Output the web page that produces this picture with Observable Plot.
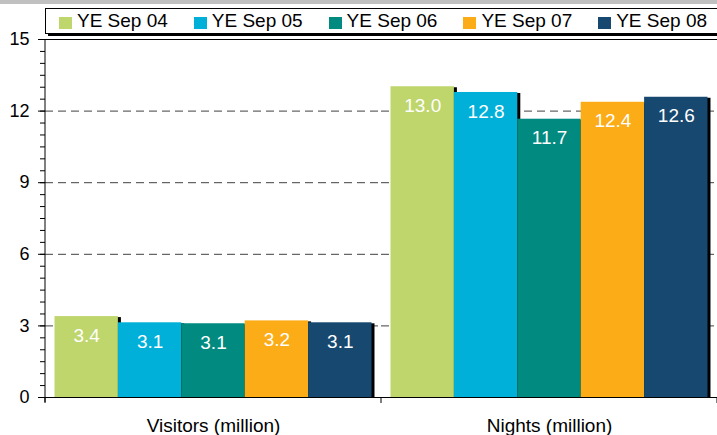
<!DOCTYPE html>
<html>
<head>
<meta charset="utf-8">
<script src="https://cdn.jsdelivr.net/npm/d3@7"></script>
<script src="https://cdn.jsdelivr.net/npm/@observablehq/plot@0.6"></script>
<style>
  html, body { margin: 0; padding: 0; background: #fff; overflow: hidden; }
  #wrap { position: relative; width: 717px; height: 435px; overflow: hidden; font-family: "Liberation Sans", Arial, sans-serif; }
  #band { position: absolute; left: 0; top: 0; width: 717px; height: 4px; background: #c0c0c0; z-index: 1; }
  #legend { position: absolute; left: 45px; top: 8px; width: 720px; height: 24px; border: 1px solid #000; background: #fff; box-shadow: 3px 2px 0 #000; z-index: 2; }
  .item { position: absolute; top: 0; height: 24px; white-space: nowrap; }
  .sw { position: absolute; top: 8px; width: 13px; height: 12px; }
  .lab { position: absolute; left: 18px; top: 0px; font-size: 19px; line-height: 24px; color: #000; }
  #chart { position: absolute; left: 0; top: 0; }
</style>
</head>
<body>
<div id="wrap">
  <div id="band"></div>
  <div id="chart"></div>
  <div id="legend"></div>
</div>
<script>
const categories = ["Visitors (million)", "Nights (million)"];
const years = ["YE Sep 04", "YE Sep 05", "YE Sep 06", "YE Sep 07", "YE Sep 08"];
const visitors = [3.39, 3.13, 3.09, 3.21, 3.13];
const nights = [13.02, 12.78, 11.66, 12.37, 12.58];
const colors = ["#bed66b", "#00b0d8", "#008a80", "#fcac17", "#17486f"];
const yTicks = [0, 3, 6, 9, 12, 15];
const gridValues = [3, 6, 9, 12];

const data = [];
years.forEach((yr, i) => data.push({cat: categories[0], year: yr, value: visitors[i]}));
years.forEach((yr, i) => data.push({cat: categories[1], year: yr, value: nights[i]}));

const chart = Plot.plot({
  width: 717,
  height: 435,
  marginLeft: 45,
  marginRight: 0,
  marginTop: 39,
  marginBottom: 38,
  style: {fontFamily: "'Liberation Sans', Arial, sans-serif", fontSize: "19px", color: "#000", background: "transparent"},
  fx: {domain: categories, padding: 0, label: null, round: false},
  x: {domain: years, paddingInner: 0, paddingOuter: 0.15, round: false, axis: null},
  y: {domain: [0, 15], label: null},
  color: {domain: years, range: colors},
  marks: [
    Plot.gridY(gridValues, {stroke: "#404040", strokeOpacity: 1, strokeDasharray: "8,5"}),
    Plot.barY(data, {fx: "cat", x: "year", y: "value", fill: "#000", dx: 3, dy: 1, insetBottom: 1}),
    Plot.barY(data, {fx: "cat", x: "year", y: "value", fill: "year"}),
    Plot.text(data, {fx: "cat", x: "year", y: "value", text: d => d.value.toFixed(1), dy: 19, fill: "#fff", fontSize: 19}),
    Plot.ruleY([0, 15], {stroke: "#000"}),
    Plot.axisY({ticks: d3.range(0, 15.01, 0.5), tickSize: 5, text: null, anchor: "left", label: null}),
    Plot.axisY({ticks: yTicks, tickSize: 7, tickPadding: 9, fontSize: 18, anchor: "left", label: null}),
    Plot.axisFx({tickSize: 0, tickPadding: 21, fontSize: 19, label: null, anchor: "bottom"})
  ]
});

// axis line and category boundary ticks via the plot's own scales
const fx = chart.scale("fx");
const ys = chart.scale("y");
const svg = d3.select(chart);
const y0 = ys.apply(0), yTop = ys.apply(15);
const edges = [];
categories.forEach(c => { edges.push(fx.apply(c)); });
edges.push(fx.apply(categories[categories.length - 1]) + fx.bandwidth);
const g = svg.append("g").attr("stroke", "#000");
g.append("line").attr("x1", edges[0]).attr("x2", edges[0]).attr("y1", yTop).attr("y2", y0 + 5);
edges.forEach(x => g.append("line").attr("x1", x).attr("x2", x).attr("y1", y0).attr("y2", y0 + 6));

document.getElementById("chart").appendChild(chart);

// legend
const legend = document.getElementById("legend");
years.forEach((yr, i) => {
  const it = document.createElement("div");
  it.className = "item";
  it.style.left = (13 + i * 134.8) + "px";
  const sw = document.createElement("div");
  sw.className = "sw";
  sw.style.background = colors[i];
  const lab = document.createElement("div");
  lab.className = "lab";
  lab.textContent = yr;
  it.appendChild(sw);
  it.appendChild(lab);
  legend.appendChild(it);
});
</script>
</body>
</html>
